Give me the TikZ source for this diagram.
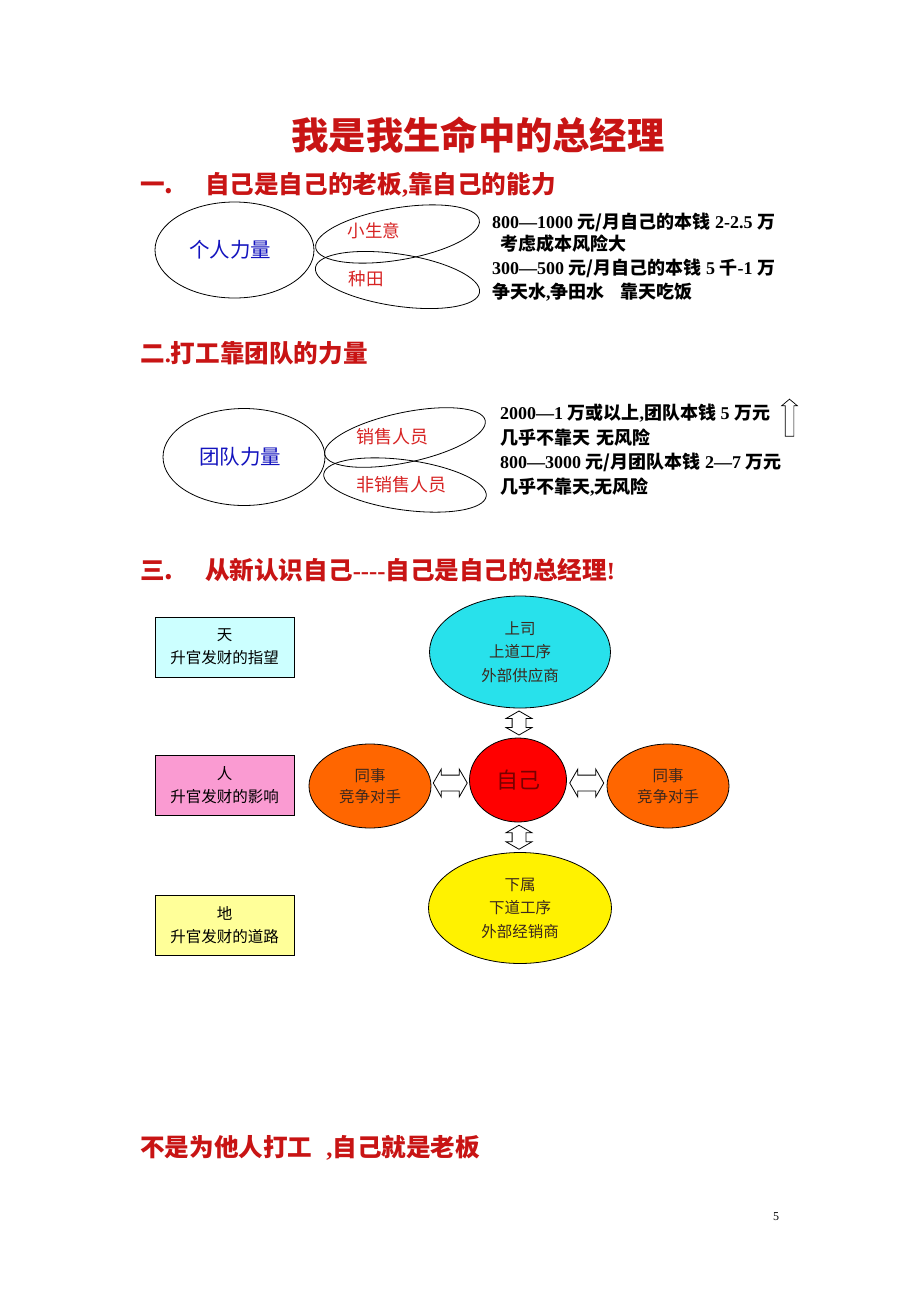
\documentclass[tikz,border=0pt]{standalone}
\usepackage{fontspec}
\setmainfont{Noto Sans CJK SC}
\newfontfamily\lat{Liberation Serif}
\usetikzlibrary{shapes.geometric,shapes.arrows,calc}
\definecolor{hred}{RGB}{200,20,20}
\definecolor{pred}{RGB}{215,35,35}
\definecolor{hblue}{RGB}{20,20,190}
\definecolor{topcyan}{RGB}{40,225,235}
\definecolor{orng}{RGB}{255,102,0}
\definecolor{ltcyan}{RGB}{204,255,255}
\definecolor{pink}{RGB}{250,155,210}
\definecolor{ltyellow}{RGB}{255,255,153}
\definecolor{dtext}{RGB}{60,40,30}
\tikzset{
  titletext/.style={text=hred, font=\fontsize{37.3}{40}\selectfont\bfseries, inner sep=0},
  head/.style={anchor=west, text=hred, font=\fontsize{24.6}{28}\selectfont\bfseries, inner sep=0},
  body/.style={anchor=west, font=\fontsize{18}{22}\selectfont\bfseries, inner sep=0},
  bigell/.style={ellipse, draw, line width=0.8pt, inner sep=0, text=hblue, font=\fontsize{20.5}{24}\selectfont},
  petal/.style={ellipse, draw, line width=0.8pt, minimum width=166, minimum height=52, inner sep=0},
  ptext/.style={text=pred, font=\fontsize{17.5}{20}\selectfont, inner sep=0},
  sbox/.style={draw, line width=0.8pt, minimum width=139, minimum height=60, align=center, inner sep=0, font=\fontsize{15.5}{23}\selectfont},
  bub/.style={ellipse, draw, line width=0.8pt, inner sep=0, align=center, text=dtext, font=\fontsize{15.5}{23.5}\selectfont},
  darr/.style={double arrow, draw, fill=white, line width=0.8pt, inner sep=0, double arrow head extend=6, double arrow tip angle=120},
}
\begin{document}
\begin{tikzpicture}[x=1pt,y=-1pt]
\useasboundingbox (0,0) rectangle (920,1302);
\fill[white] (0,0) rectangle (920,1302);

% title
\node[titletext] (title) at (478,135) {我是我生命中的总经理};

% section 1
\node[head] (h1) at (140,185) {\makebox[65pt][l]{一.}自己是自己的老板{\lat ,}靠自己的能力};
\node[bigell, minimum width=159, minimum height=96] (personal) at (234.5,250) {\hspace*{-9pt}个人力量};
\node[petal, rotate=9.6] (biz) at (397.5,234) {};
\node[petal, rotate=-8.6] (farm) at (397.5,280) {};
\node[ptext] (biztxt) at (374,231) {小生意};
\node[ptext] (farmtxt) at (366,279) {种田};
\node[body] (t1) at (492,222) {{\lat 800—1000 }元/月自己的本钱{\lat\ 2-2.5 }万};
\node[body] (t2) at (500,244) {考虑成本风险大};
\node[body] (t3) at (492,268) {{\lat 300—500 }元/月自己的本钱{\lat\ 5 }千{\lat -1 }万};
\node[body] (t4) at (492,292) {争天水{\lat ,}争田水\hspace{16pt}靠天吃饭};

% section 2
\node[head] (h2) at (140,353) {二{\lat .}打工靠团队的力量};
\node[bigell, minimum width=162, minimum height=97] (team) at (244,457) {\hspace*{-8pt}团队力量};
\node[petal, minimum width=164, minimum height=50, rotate=12] (sales) at (405,437.5) {};
\node[petal, minimum width=164, minimum height=50, rotate=-7.8] (nonsales) at (405,485) {};
\node[ptext, font=\fontsize{18}{20}\selectfont] (salestxt) at (392,437) {销售人员};
\node[ptext, font=\fontsize{18}{20}\selectfont] (nonsalestxt) at (401,485) {非销售人员};
\node[body] (s1) at (500,413) {{\lat 2000—1 }万或以上{\lat ,}团队本钱{\lat\ 5 }万元};
\node[body] (s2) at (500,438) {几乎不靠天\hspace{6pt}无风险};
\node[body] (s3) at (500,462) {{\lat 800—3000 }元/月团队本钱{\lat\ 2—7 }万元};
\node[body] (s4) at (500,487) {几乎不靠天{\lat ,}无风险};
\node[single arrow, draw, fill=white, line width=0.7pt, inner sep=0, minimum height=37, single arrow head extend=3.5, single arrow tip angle=100, rotate=90] (up) at (789.5,419.5) {\rule{0pt}{8pt}};

% section 3
\node[head] (h3) at (140,570) {\makebox[65pt][l]{三.}从新认识自己{\lat ----}自己是自己的总经理{\lat !}};

\node[sbox, fill=ltcyan] (sky) at (224.5,647) {天\\升官发财的指望};
\node[sbox, fill=pink] (man) at (224.5,785) {人\\升官发财的影响};
\node[sbox, fill=ltyellow] (earth) at (224.5,925) {地\\升官发财的道路};

\node[bub, fill=topcyan, minimum width=181, minimum height=112] (boss) at (520,652) {上司\\上道工序\\外部供应商};
\node[ellipse, draw, line width=0.8pt, fill=red, minimum width=97, minimum height=84, inner sep=0, text={rgb,255:red,120;green,0;blue,0}, font=\fontsize{22}{26}\selectfont] (self) at (518,780) {自己};
\node[bub, fill=orng, minimum width=122, minimum height=84, font=\fontsize{15.5}{21}\selectfont] (peerL) at (370,786) {同事\\竞争对手};
\node[bub, fill=orng, minimum width=122, minimum height=84, font=\fontsize{15.5}{21}\selectfont] (peerR) at (668,786) {同事\\竞争对手};
\node[bub, fill=yellow, minimum width=183, minimum height=111] (sub) at (520,908) {下属\\下道工序\\外部经销商};

\node[darr, rotate=90, minimum height=24] (a1) at ($(boss.south)!0.5!(self.north)$) {\rule{0pt}{13pt}};
\node[darr, rotate=90, minimum height=24] (a2) at ($(self.south)!0.5!(sub.north)$) {\rule{0pt}{13pt}};
\node[darr, minimum height=34] (a3) at ($(peerL.east)!0.5!(self.west)$) {\rule{0pt}{15pt}};
\node[darr, minimum height=34] (a4) at ($(self.east)!0.5!(peerR.west)$) {\rule{0pt}{15pt}};

% bottom
\node[head] (foot) at (140,1148) {不是为他人打工\hspace{14pt}{\lat ,}自己就是老板};
\node[font=\lat\fontsize{12}{14}\selectfont, inner sep=0] (pg) at (776,1217) {5};
\end{tikzpicture}
\end{document}
